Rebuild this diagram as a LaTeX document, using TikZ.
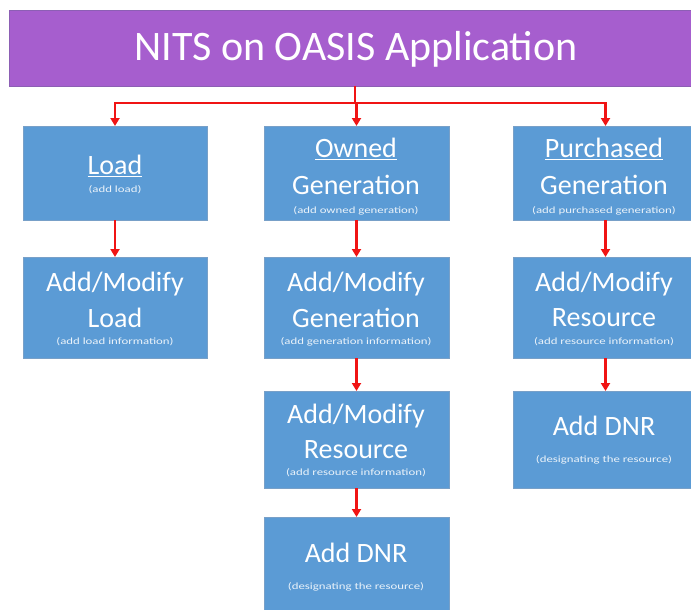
\documentclass[tikz,border=0pt]{standalone}
\usepackage{fontspec}
\setmainfont{Carlito}
\usetikzlibrary{arrows.meta}
\definecolor{boxblue}{RGB}{91,155,213}
\definecolor{boxedge}{RGB}{120,160,200}
\definecolor{titlepurple}{RGB}{166,94,206}
\definecolor{titleedge}{RGB}{140,95,180}
\definecolor{connred}{RGB}{240,20,20}
\newcommand{\smtxt}[1]{\scalebox{1.35}[1]{#1}}
\begin{document}
\begin{tikzpicture}[x=1pt,y=-1pt,
  box/.style={draw=boxedge, fill=boxblue, line width=0.8pt, anchor=north west, inner sep=0pt, outer sep=0pt},
  big/.style={text=white, font=\fontsize{28}{28}\selectfont, inner sep=0pt},
  small/.style={text=white!88!boxblue, font=\fontsize{9.5}{9.5}\selectfont, inner sep=0pt},
  conn/.style={draw=connred, line width=2.6pt, -{Triangle[length=8pt,width=9pt]}},
  plain/.style={draw=connred, line width=2.6pt}
]
\useasboundingbox (0,0) rectangle (691,610);
% title
\node[box, draw=titleedge, fill=titlepurple, minimum width=700pt, minimum height=76pt] (title) at (9,10) {};
\node[text=white, font=\fontsize{42}{42}\selectfont, inner sep=0pt] (ttext) at (356,49) {NITS on OASIS Application};
% boxes
\node[box, minimum width=184pt, minimum height=94pt] (b1) at (23,126) {};
\node[box, minimum width=185pt, minimum height=94pt] (b2) at (264,126) {};
\node[box, minimum width=185pt, minimum height=94pt] (b3) at (513,126) {};
\node[box, minimum width=184pt, minimum height=101pt] (b4) at (23,257) {};
\node[box, minimum width=185pt, minimum height=101pt] (b5) at (264,257) {};
\node[box, minimum width=185pt, minimum height=101pt] (b6) at (513,257) {};
\node[box, minimum width=185pt, minimum height=97pt] (b7) at (264,391) {};
\node[box, minimum width=185pt, minimum height=97pt] (b8) at (513,391) {};
\node[box, minimum width=185pt, minimum height=100pt] (b9) at (264,517) {};
% texts b1
\node[big] (t1a) at (115,166) {\underline{Load}};
\node[small] (t1b) at (115,190) {\smtxt{(add load)}};
% b2
\node[big] (t2a) at (356,149) {\underline{Owned}};
\node[big] (t2b) at (356,185) {Generation};
\node[small] (t2c) at (356,211) {\smtxt{(add owned generation)}};
% b3
\node[big] (t3a) at (604,149) {\underline{Purchased}};
\node[big] (t3b) at (604,185) {Generation};
\node[small] (t3c) at (604,211) {\smtxt{(add purchased generation)}};
% b4
\node[big] (t4a) at (115,284) {Add/Modify};
\node[big] (t4b) at (115,318) {Load};
\node[small] (t4c) at (115,342) {\smtxt{(add load information)}};
% b5
\node[big] (t5a) at (356,284) {Add/Modify};
\node[big] (t5b) at (356,318) {Generation};
\node[small] (t5c) at (356,342) {\smtxt{(add generation information)}};
% b6
\node[big] (t6a) at (604,284) {Add/Modify};
\node[big] (t6b) at (604,318) {Resource};
\node[small] (t6c) at (604,342) {\smtxt{(add resource information)}};
% b7
\node[big] (t7a) at (356,416) {Add/Modify};
\node[big] (t7b) at (356,450) {Resource};
\node[small] (t7c) at (356,473) {\smtxt{(add resource information)}};
% b8
\node[big] (t8a) at (604,426) {Add DNR};
\node[small] (t8b) at (604,460) {\smtxt{(designating the resource)}};
% b9
\node[big] (t9a) at (356,553) {Add DNR};
\node[small] (t9b) at (356,587) {\smtxt{(designating the resource)}};
% connectors
\coordinate (split) at (355,103);
\coordinate (top) at (355,86);
\draw[plain] (top) -- (split);
\draw[conn] (split) -| (b1.north);
\draw[conn] (split) -- (split -| b2.north) -- (b2.north);
\draw[conn] (split) -| (b3.north);
\draw[conn] (b1.south) -- (b4.north);
\draw[conn] (b2.south) -- (b5.north);
\draw[conn] (b3.south) -- (b6.north);
\draw[conn] (b5.south) -- (b7.north);
\draw[conn] (b6.south) -- (b8.north);
\draw[conn] (b7.south) -- (b9.north);
\end{tikzpicture}
\end{document}
